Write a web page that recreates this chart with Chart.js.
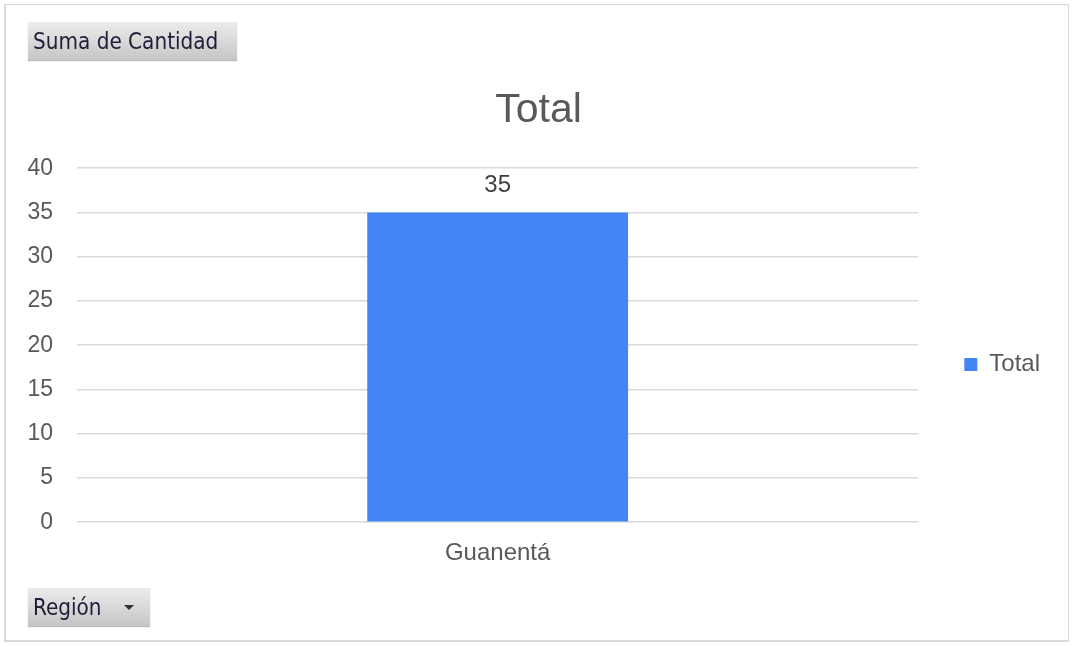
<!DOCTYPE html>
<html>
<head>
<meta charset="utf-8">
<script src="https://cdn.jsdelivr.net/npm/chart.js@4"></script>
<style>
  html, body { margin: 0; padding: 0; background: #fff; }
  #wrap { position: relative; width: 1072px; height: 645px; overflow: hidden; }
  #frame { position: absolute; left: 4px; top: 4px; width: 1062px; height: 635px; border: 2px solid #d9d9d9; border-top-width: 1px; border-right-width: 1px; }
  canvas { position: absolute; left: 0; top: 0; }
  .btn {
    position: absolute; font-family: "DejaVu Sans Condensed", "Liberation Sans Narrow", "Noto Sans", sans-serif; font-size: 22.3px; color: #1f1f3a;
    background: linear-gradient(#ececec, #c6c6c6); box-shadow: 0 1px 1px #bbb;
    padding: 0 5px; line-height: 38px; height: 38px; box-sizing: border-box; white-space: nowrap;
  }
  #suma { left: 28px; top: 22px; width: 209px; }
  #region { left: 28px; top: 588px; width: 122px; }
  #region .arrow { position: absolute; left: 96px; top: 17px; width: 0; height: 0;
    border-left: 5px solid transparent; border-right: 5px solid transparent; border-top: 5px solid #333; }
</style>
</head>
<body>
<div id="wrap">
  <div id="frame"></div>
  <canvas id="myChart" width="1072" height="645"></canvas>
  <div class="btn" id="suma">Suma de Cantidad</div>
  <div class="btn" id="region">Región<span class="arrow"></span></div>
</div>
<script>
const categories = ['Guanentá'];
const totals = [35];
const yTicks = [0, 5, 10, 15, 20, 25, 30, 35, 40];

const FONT = '"Liberation Sans", Arial, sans-serif';
const legendShift = 33;

const barLabels = {
    id: 'barLabels',
    afterDatasetsDraw(chart) {
        const ctx = chart.ctx;
        ctx.save();
        ctx.font = '24px ' + FONT;
        ctx.fillStyle = '#404040';
        ctx.textAlign = 'center';
        ctx.textBaseline = 'middle';
        chart.getDatasetMeta(0).data.forEach((bar, i) => {
            ctx.fillText(totals[i], bar.x, bar.y - 27);
        });
        ctx.restore();
    }
};

// nudge the legend down a bit, Excel puts it lower than the middle
const legendNudge = {
    id: 'legendNudge',
    afterLayout(chart) {
        const lg = chart.legend;
        lg.top += legendShift;
        lg.bottom += legendShift;
    }
};

const ctx = document.getElementById('myChart').getContext('2d');
const myChart = new Chart(ctx, {
    type: 'bar',
    data: {
        labels: categories,
        datasets: [{
            label: 'Total',
            data: totals,
            backgroundColor: '#4285F4',
            barPercentage: 1,
            categoryPercentage: 0.31
        }]
    },
    options: {
        responsive: false,
        animation: false,
        layout: {
            padding: { left: 27, right: 22, top: 86, bottom: 68 }
        },
        plugins: {
            title: {
                display: true,
                text: 'Total',
                color: '#595959',
                font: { family: FONT, size: 41, weight: 'normal' },
                padding: { top: 0, bottom: 33 }
            },
            legend: {
                position: 'right',
                labels: {
                    color: '#595959',
                    font: { family: FONT, size: 24 },
                    boxWidth: 13,
                    boxHeight: 13,
                    padding: 46
                }
            },
            tooltip: { enabled: false }
        },
        scales: {
            x: {
                grid: { display: false },
                border: { display: false },
                ticks: {
                    color: '#595959',
                    font: { family: FONT, size: 24 },
                    padding: 9,
                    maxRotation: 0
                }
            },
            y: {
                min: 0,
                max: 40,
                afterBuildTicks(axis) {
                    axis.ticks = yTicks.map(v => ({ value: v }));
                },
                afterFit(axis) {
                    axis.width = 50;
                },
                grid: { color: '#d9d9d9', lineWidth: 1.5, drawTicks: false },
                border: { display: false },
                ticks: {
                    color: '#595959',
                    font: { family: FONT, size: 23 },
                    padding: 24
                }
            }
        }
    },
    plugins: [barLabels, legendNudge]
});
</script>
</body>
</html>
